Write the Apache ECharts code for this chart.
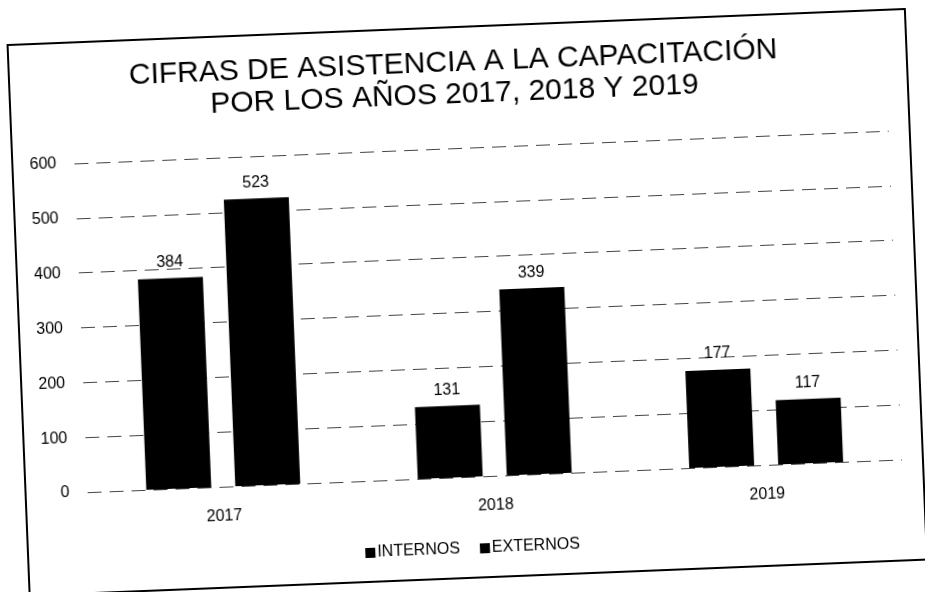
<!DOCTYPE html>
<html>
<head>
<meta charset="utf-8">
<script src="https://cdn.jsdelivr.net/npm/echarts@6/dist/echarts.min.js"></script>
<style>
  html, body { margin: 0; padding: 0; background: #fff; }
  #chart { width: 925px; height: 592px; transform: rotate(-2.3deg); transform-origin: 462px 296px; }
</style>
</head>
<body>
<div id="chart"></div>
<script>
var years = ['2017', '2018', '2019'];
var internos = [384, 131, 177];
var externos = [523, 339, 117];
var yTicks = [0, 100, 200, 300, 400, 500, 600];

var chart = echarts.init(document.getElementById('chart'));

var option = {
  animation: false,
  backgroundColor: '#fff',
  textStyle: { fontFamily: 'Liberation Sans, Arial, sans-serif', color: '#000' },
  title: {
    text: 'CIFRAS DE ASISTENCIA A LA CAPACITACIÓN\nPOR LOS AÑOS 2017, 2018 Y 2019',
    left: 'center',
    top: 42,
    textStyle: { fontSize: 30, fontWeight: 'normal', color: '#000', lineHeight: 32, align: 'center' }
  },
  graphic: [{
    type: 'rect',
    shape: { x: 18, y: 27, width: 898, height: 551 },
    style: { fill: 'none', stroke: '#000', lineWidth: 2 }
  }],
  legend: {
    top: 536,
    left: 'center',
    itemWidth: 10,
    itemHeight: 10,
    itemGap: 20,
    icon: 'rect',
    textStyle: { fontSize: 16, color: '#000', padding: [0, 0, 0, -3] },
    data: ['INTERNOS', 'EXTERNOS']
  },
  grid: { left: 80, right: 30, top: 148, bottom: 115 },
  xAxis: {
    type: 'category',
    data: years,
    axisLine: { show: false },
    axisTick: { show: false },
    axisLabel: { fontSize: 16, color: '#000', margin: 22 }
  },
  yAxis: {
    type: 'value',
    min: yTicks[0],
    max: yTicks[yTicks.length - 1],
    interval: 100,
    axisLine: { show: false },
    axisTick: { show: false },
    axisLabel: { fontSize: 16, color: '#000', margin: 18 },
    splitLine: { lineStyle: { color: '#444', type: [14, 8], width: 1 } }
  },
  series: [{
    name: 'INTERNOS',
    type: 'bar',
    data: internos,
    barWidth: 65,
    barGap: '37%',
    itemStyle: { color: '#000' },
    label: { show: true, position: 'top', fontSize: 16, color: '#000', distance: 8 }
  }, {
    name: 'EXTERNOS',
    type: 'bar',
    data: externos,
    barWidth: 65,
    barGap: '37%',
    itemStyle: { color: '#000' },
    label: { show: true, position: 'top', fontSize: 16, color: '#000', distance: 8 }
  }]
};

chart.setOption(option);
</script>
</body>
</html>
